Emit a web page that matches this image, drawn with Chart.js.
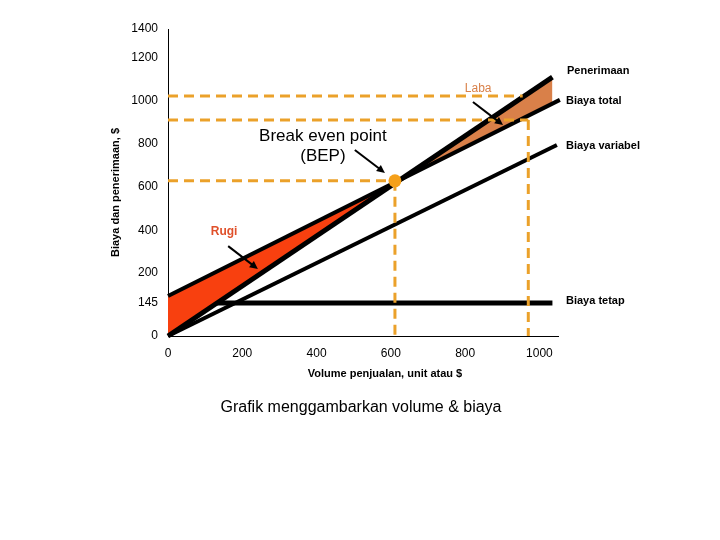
<!DOCTYPE html>
<html>
<head>
<meta charset="utf-8">
<script src="https://cdn.jsdelivr.net/npm/chart.js@4"></script>
<style>
  body { margin: 0; background: #fff; }
  #wadah { width: 720px; height: 540px; }
</style>
</head>
<body>
<div id="wadah"><canvas id="grafikBEP"></canvas></div>
<script>
// ==========================
//  Data
// ==========================
const tickVolume = [0, 200, 400, 600, 800, 1000];
const tickBiaya = [0, 145, 200, 400, 600, 800, 1000, 1200, 1400];

const volPenerimaan = [0, 1035];
const penerimaan = [0, 1111];

const volBiayaTotal = [0, 1055];
const biayaTotal = [158, 1006];

const volBiayaVariabel = [0, 1047];
const biayaVariabel = [0, 796];

const volBiayaTetap = [0, 1035];
const biayaTetap = [145, 145];

const bepVolume = 611;
const bepBiaya = 629;

const volumeSasaran = 970;
const penerimaanSasaran = 1024;
const biayaTotalSasaran = 912;

// Sumbu biaya di gambar asli tidak berjarak rata:
// letak tiap tick (0 = bawah, 1 = atas) sepanjang sumbu
const letakTickBiaya = [0, 0.1075, 0.205, 0.342, 0.485, 0.625, 0.765, 0.906, 1];

const FONT = "'Liberation Sans', Arial, sans-serif";
const OREN = "#eba12a";

// ==========================
//  Skala biaya (linear per bagian)
// ==========================
class SkalaBiaya extends Chart.LinearScale {
  static id = "skalaBiaya";
  static defaults = Chart.LinearScale.defaults;

  fraksi(v) {
    const k = tickBiaya, f = letakTickBiaya;
    let i = 1;
    while (i < k.length - 1 && v > k[i]) i++;
    return f[i - 1] + ((v - k[i - 1]) / (k[i] - k[i - 1])) * (f[i] - f[i - 1]);
  }
  getPixelForValue(v) {
    if (v === null || v === undefined) return NaN;
    return this.getPixelForDecimal(this.fraksi(v));
  }
  getValueForPixel(p) {
    const d = this.getDecimalForPixel(p);
    const k = tickBiaya, f = letakTickBiaya;
    let i = 1;
    while (i < f.length - 1 && d > f[i]) i++;
    return k[i - 1] + ((d - f[i - 1]) / (f[i] - f[i - 1])) * (k[i] - k[i - 1]);
  }
}
Chart.register(SkalaBiaya);

const titik = (xs, ys) => xs.map((v, i) => ({ x: v, y: ys[i] }));

function garisPutus(data) {
  return {
    data: data,
    borderColor: OREN,
    borderWidth: 3,
    borderDash: [10, 6],
    pointRadius: 0,
    fill: false,
  };
}

// ==========================
//  Dataset (yang pertama digambar paling atas)
// ==========================
const datasets = [
  {
    label: "BEP",
    data: [{ x: bepVolume, y: bepBiaya }],
    showLine: false,
    pointRadius: 6.5,
    pointBackgroundColor: "#f5a01a",
    pointBorderWidth: 0,
  },
  garisPutus([{ x: 0, y: penerimaanSasaran }, { x: volumeSasaran - 15, y: penerimaanSasaran }]),
  garisPutus([{ x: 0, y: biayaTotalSasaran }, { x: volumeSasaran, y: biayaTotalSasaran }]),
  garisPutus([{ x: volumeSasaran, y: biayaTotalSasaran }, { x: volumeSasaran, y: 0 }]),
  garisPutus([{ x: 0, y: bepBiaya }, { x: bepVolume, y: bepBiaya }]),
  garisPutus([{ x: bepVolume, y: bepBiaya }, { x: bepVolume, y: 0 }]),
  {
    label: "Biaya total",
    data: titik(volBiayaTotal, biayaTotal),
    borderColor: "#000",
    borderWidth: 4,
    pointRadius: 0,
  },
  {
    label: "Penerimaan",
    data: titik(volPenerimaan, penerimaan),
    borderColor: "#000",
    borderWidth: 5,
    pointRadius: 0,
    fill: { target: 6, above: "#d98049", below: "#f8400f" },
  },
  {
    label: "Biaya variabel",
    data: titik(volBiayaVariabel, biayaVariabel),
    borderColor: "#000",
    borderWidth: 4,
    pointRadius: 0,
  },
  {
    label: "Biaya tetap",
    data: titik(volBiayaTetap, biayaTetap),
    borderColor: "#000",
    borderWidth: 5,
    pointRadius: 0,
  },
];
datasets.forEach((d, i) => {
  d.clip = false;
  d.order = i;
});

// ==========================
//  Teks & panah tambahan
// ==========================
function panah(ctx, x1, y1, x2, y2) {
  const sudut = Math.atan2(y2 - y1, x2 - x1);
  ctx.beginPath();
  ctx.moveTo(x1, y1);
  ctx.lineTo(x2 - 6 * Math.cos(sudut), y2 - 6 * Math.sin(sudut));
  ctx.lineWidth = 2;
  ctx.strokeStyle = "#000";
  ctx.stroke();
  ctx.beginPath();
  ctx.moveTo(x2, y2);
  ctx.lineTo(x2 - 9 * Math.cos(sudut - 0.45), y2 - 9 * Math.sin(sudut - 0.45));
  ctx.lineTo(x2 - 9 * Math.cos(sudut + 0.45), y2 - 9 * Math.sin(sudut + 0.45));
  ctx.closePath();
  ctx.fillStyle = "#000";
  ctx.fill();
}

const anotasi = {
  id: "anotasi",
  afterDatasetsDraw(chart) {
    const { ctx, chartArea, scales } = chart;
    const px = (v) => scales.x.getPixelForValue(v);
    const py = (v) => scales.y.getPixelForValue(v);
    const akhir = (a) => a[a.length - 1];
    ctx.save();
    ctx.textBaseline = "middle";

    // label garis di kanan
    ctx.fillStyle = "#000";
    ctx.font = "bold 11px " + FONT;
    ctx.textAlign = "left";
    const kanan = chartArea.right + 8;
    ctx.fillText("Penerimaan", kanan + 1, py(akhir(penerimaan)) - 6);
    ctx.fillText("Biaya total", kanan, py(akhir(biayaTotal)) + 1);
    ctx.fillText("Biaya variabel", kanan, py(akhir(biayaVariabel)) + 1);
    ctx.fillText("Biaya tetap", kanan, py(akhir(biayaTetap)) - 2);

    // Laba
    ctx.textAlign = "center";
    ctx.font = "12px " + FONT;
    ctx.fillStyle = "#d98049";
    ctx.fillText("Laba", px(835), py(1056));
    panah(ctx, px(821), py(996), px(902), py(889));

    // BEP
    ctx.fillStyle = "#000";
    ctx.font = "17px " + FONT;
    ctx.fillText("Break even point", px(417), py(838));
    ctx.fillText("(BEP)", px(417), py(745));
    panah(ctx, px(503), py(773), px(584), py(666));

    // Rugi
    ctx.fillStyle = "#e0502a";
    ctx.font = "bold 12px " + FONT;
    ctx.fillText("Rugi", px(151), py(396));
    panah(ctx, px(162), py(328), px(242), py(219));

    // judul sumbu
    ctx.fillStyle = "#000";
    ctx.font = "bold 11px " + FONT;
    const tengahX = (chartArea.left + chartArea.right) / 2;
    ctx.fillText("Volume penjualan, unit atau $", tengahX + 22, chartArea.bottom + 38);
    ctx.save();
    ctx.translate(chartArea.left - 52, (chartArea.top + chartArea.bottom) / 2 + 10);
    ctx.rotate(-Math.PI / 2);
    ctx.fillText("Biaya dan penerimaan, $", 0, 0);
    ctx.restore();

    // judul grafik
    ctx.font = "16px " + FONT;
    ctx.fillText("Grafik menggambarkan volume & biaya", tengahX - 2, chartArea.bottom + 72);
    ctx.restore();
  },
};

// ==========================
//  Grafik
// ==========================
const gayaTick = { padding: 10, color: "#000", font: { family: FONT, size: 12 }, callback: (v) => String(v) };

new Chart(document.getElementById("grafikBEP"), {
  type: "line",
  data: { datasets: datasets },
  options: {
    responsive: true,
    maintainAspectRatio: false,
    animation: false,
    layout: { padding: { left: 106, right: 162, top: 29, bottom: 174 } },
    plugins: {
      legend: { display: false },
      tooltip: { enabled: false },
      filler: { drawTime: "beforeDatasetDraw" },
    },
    scales: {
      x: {
        type: "linear",
        min: 0,
        max: 1050,
        afterBuildTicks: (s) => (s.ticks = tickVolume.map((v) => ({ value: v }))),
        afterFit: (s) => (s.height = 30),
        grid: { display: false, drawTicks: false },
        border: { display: true, color: "#000", width: 1 },
        ticks: gayaTick,
      },
      y: {
        type: "skalaBiaya",
        min: 0,
        max: 1400,
        afterBuildTicks: (s) => (s.ticks = tickBiaya.map((v) => ({ value: v }))),
        afterFit: (s) => (s.width = 62),
        grid: { display: false, drawTicks: false },
        border: { display: true, color: "#000", width: 1 },
        ticks: gayaTick,
      },
    },
  },
  plugins: [anotasi],
});
</script>
</body>
</html>
